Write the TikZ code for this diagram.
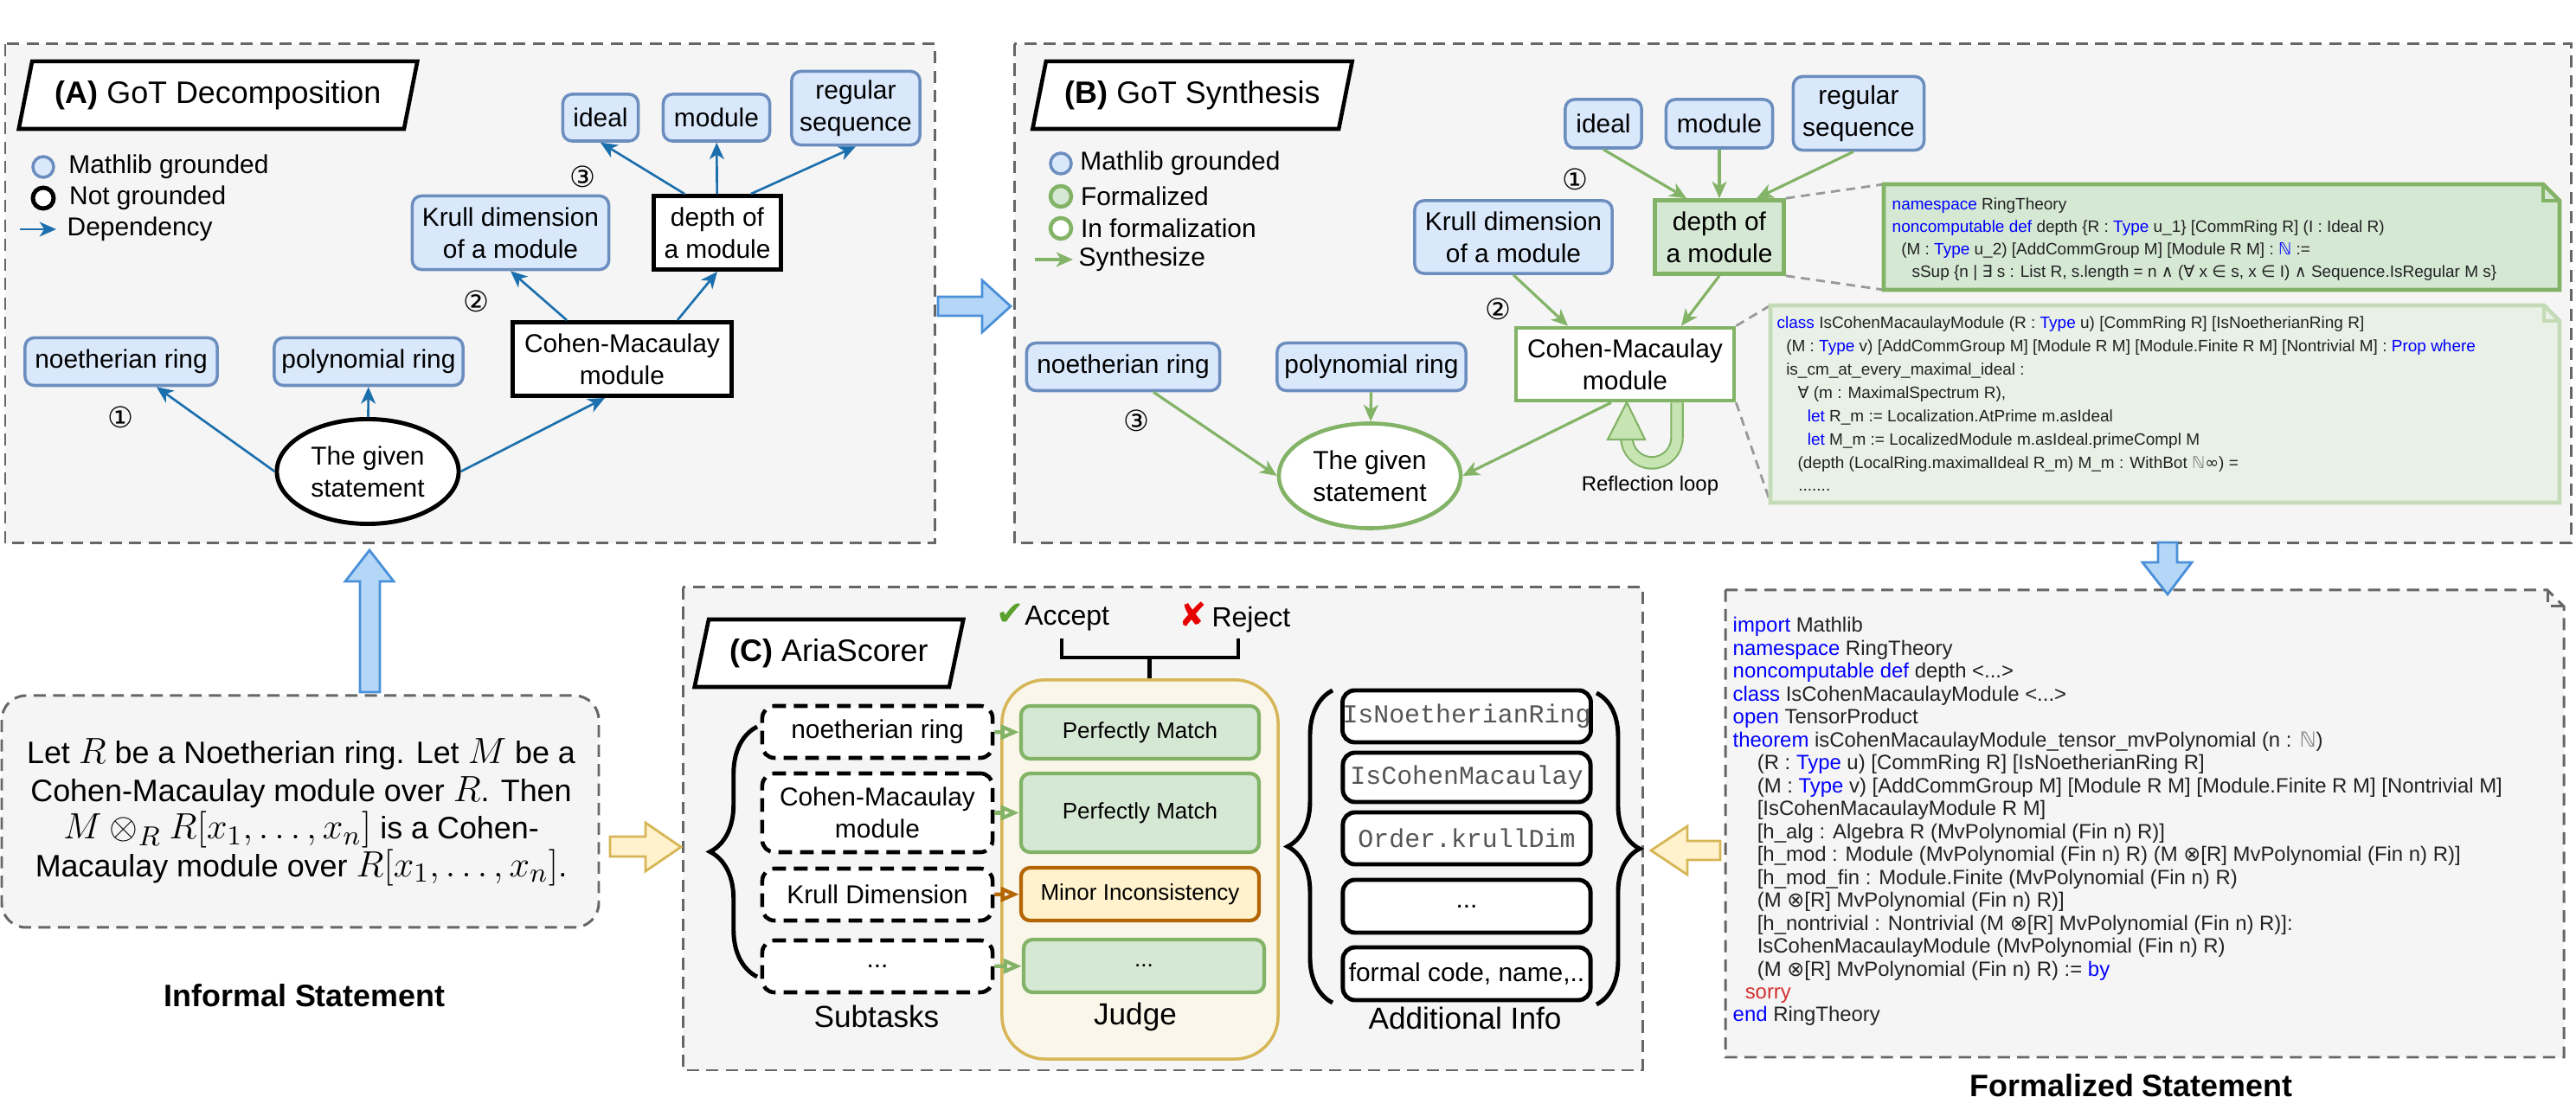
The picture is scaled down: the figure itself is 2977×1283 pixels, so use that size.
\documentclass[tikz,border=0pt]{standalone}
\usepackage{fontspec}
\setmainfont{Liberation Sans}
\setmonofont{Liberation Mono}
\newfontfamily\symfnt{DejaVu Sans}
\usetikzlibrary{positioning,shapes.geometric,arrows.meta,calc,decorations.pathreplacing}

\definecolor{panelbg}{HTML}{F5F5F5}
\definecolor{panelline}{HTML}{666666}
\definecolor{groundfill}{HTML}{DAE8FC}
\definecolor{groundline}{HTML}{6C8EBF}
\definecolor{formfill}{HTML}{D5E8D4}
\definecolor{formline}{HTML}{82B366}
\definecolor{codefill}{HTML}{E9F1E6}
\definecolor{codeline}{HTML}{C3DBB6}
\definecolor{depblue}{HTML}{1B6FAD}
\definecolor{kwblue}{HTML}{0000FF}
\definecolor{natgray}{HTML}{808080}
\definecolor{sorryred}{HTML}{D32F2F}
\definecolor{codeblack}{HTML}{222222}
\definecolor{judgefill}{HTML}{FAF6EA}
\definecolor{judgeline}{HTML}{D6B656}
\definecolor{minorfill}{HTML}{FFF2CC}
\definecolor{minorline}{HTML}{B46504}
\definecolor{bigblue}{HTML}{B5D7F7}
\definecolor{bigblueline}{HTML}{4A90D9}
\definecolor{okgreen}{HTML}{5AA02C}
\definecolor{nored}{HTML}{E60000}
\definecolor{loopfill}{HTML}{C6E5B3}
\definecolor{calloutgray}{HTML}{999999}
\definecolor{infogray}{HTML}{555555}

\newcommand{\nodefont}{\fontsize{8.5}{10.5}\selectfont}
\newcommand{\titlefont}{\fontsize{10.2}{12}\selectfont}
\newcommand{\kw}[1]{{\color{kwblue}#1}}
\newcommand{\nat}{{\symfnt\color{natgray}ℕ}}
\newcommand{\tens}{{\symfnt ⊗}}
\newcommand{\mth}[1]{{\fontsize{12.2}{12.2}\selectfont$#1$}}
\newcommand{\notebox}[6]{%
  \draw[#1] (#2,#3) -- ({#4-#6},#3) -- (#4,{#3+#6}) -- (#4,#5) -- (#2,#5) -- cycle;
  \draw[#1,fill=none] ({#4-#6},#3) -- ({#4-#6},{#3+#6}) -- (#4,{#3+#6});}

\begin{document}
\begin{tikzpicture}[
x=0.01cm, y=-0.01cm,
panel/.style={draw=panelline, fill=panelbg, line width=0.85pt, dash pattern=on 4pt off 2.4pt},
titlebox/.style={trapezium, trapezium left angle=68, trapezium right angle=112, trapezium stretches=true,
  draw=black, fill=white, line width=1.3pt, inner sep=0pt, font=\titlefont},
grounded/.style={draw=groundline, fill=groundfill, line width=1pt, rounded corners=3pt, align=center, inner sep=0pt, font=\nodefont},
notgrounded/.style={draw=black, fill=white, line width=1.4pt, align=center, inner sep=0pt, font=\nodefont},
formalized/.style={draw=formline, fill=formfill, line width=1.3pt, align=center, inner sep=0pt, font=\nodefont},
informal/.style={draw=formline, fill=white, line width=1.3pt, align=center, inner sep=0pt, font=\nodefont},
statement/.style={ellipse, fill=white, line width=1.4pt, align=center, inner sep=0pt, font=\nodefont,
  minimum width=2.1cm, minimum height=1.21cm},
deparrow/.style={draw=depblue, line width=0.75pt, -{Stealth[length=5.5pt,width=4.8pt,inset=1.6pt]}},
synarrow/.style={draw=formline, line width=0.9pt, -{Stealth[length=5.5pt,width=4.8pt,inset=1.6pt]}},
marker/.style={circle, minimum size=0.24cm, inner sep=0pt},
legend/.style={anchor=west, inner sep=0pt, font=\nodefont},
circnum/.style={inner sep=0pt, font=\symfnt\fontsize{9.5}{9.5}\selectfont},
callout/.style={draw=calloutgray, line width=0.8pt, dash pattern=on 3pt off 2pt},
codetext/.style={align=left, inner sep=0pt, text=codeblack, anchor=base west},
bigarrow/.style={draw=bigblueline, fill=bigblue, line width=0.8pt},
yelarrow/.style={draw=judgeline, fill=minorfill, line width=0.8pt},
subtask/.style={draw=black, fill=white, line width=1.3pt, dash pattern=on 4.5pt off 2.6pt, rounded corners=4pt,
  align=center, inner sep=0pt, minimum width=2.66cm, font=\nodefont},
judgeitem/.style={draw=formline, fill=formfill, line width=1.2pt, rounded corners=3pt, align=center, inner sep=0pt,
  minimum width=2.75cm, font=\fontsize{7.4}{9}\selectfont},
infobox/.style={draw=black, fill=white, line width=1.4pt, rounded corners=4pt, inner sep=0pt, minimum width=2.86cm,
  font=\nodefont},
judgearrow/.style={line width=1.2pt, -{Triangle[open,length=6pt,width=4.8pt]}},
bracestyle/.style={draw=black, line width=1.4pt, decorate},
biglabel/.style={inner sep=0pt, font=\bfseries\fontsize{10.2}{12}\selectfont},
]

\useasboundingbox (0,0) rectangle (2977,1283);

\draw[panel] (6,51) rectangle (1080,628);
\draw[panel] (1172,51) rectangle (2971,628);
\draw[panel] (789,679) rectangle (1898,1237);
\draw[panel, rounded corners=8pt] (2,804) rectangle (692,1072);
\notebox{panel}{1994}{682}{2963}{1222}{19}

\draw[bigarrow] (1084,343) -- (1135,343) -- (1135,324) -- (1168,354) -- (1135,384) -- (1135,365) -- (1084,365) -- cycle;
\draw[bigarrow] (416,800) -- (416,672) -- (399,672) -- (427,636) -- (455,672) -- (439,672) -- (439,800) -- cycle;
\draw[bigarrow] (2494,627) -- (2494,650) -- (2476,650) -- (2505,687) -- (2533,650) -- (2516,650) -- (2516,627) -- cycle;
\draw[yelarrow] (705,967) -- (746,967) -- (746,951) -- (787,979) -- (746,1007) -- (746,990) -- (705,990) -- cycle;
\draw[yelarrow] (1988,972) -- (1950,972) -- (1950,955) -- (1908,983) -- (1950,1011) -- (1950,994) -- (1988,994) -- cycle;

\node[titlebox, minimum width=4.61cm, minimum height=0.78cm] (titleA) at (252,110) {\textbf{(A)} GoT Decomposition};

\node[marker, draw=groundline, fill=groundfill, line width=1pt] (legA-g) at (50,193) {};
\node[marker, draw=black, fill=white, line width=1.4pt] (legA-n) at (50,229) {};
\coordinate (legA-a1) at (23,265);
\coordinate (legA-a2) at (65,265);
\draw[deparrow] (legA-a1) -- (legA-a2);
\node[legend, right=0.15cm of legA-g] {Mathlib grounded};
\node[legend, right=0.15cm of legA-n] {Not grounded};
\node[legend] at (77,265) {Dependency};

\node[grounded, minimum width=0.87cm, minimum height=0.54cm] (A-ideal) at (694,136) {ideal};
\node[grounded, minimum width=1.23cm, minimum height=0.54cm] (A-module) at (828,136) {module};
\node[grounded, minimum width=1.48cm, minimum height=0.85cm] (A-regseq) at (989,125) {regular\\sequence};
\node[grounded, minimum width=2.27cm, minimum height=0.85cm] (A-krull) at (590,269) {Krull dimension\\of a module};
\node[notgrounded, minimum width=1.47cm, minimum height=0.85cm] (A-depth) at (829,269) {depth of\\a module};
\node[grounded, minimum width=2.22cm, minimum height=0.55cm] (A-noeth) at (140,418) {noetherian ring};
\node[grounded, minimum width=2.18cm, minimum height=0.55cm] (A-poly) at (426,418) {polynomial ring};
\node[notgrounded, minimum width=2.53cm, minimum height=0.85cm] (A-cm) at (719,415) {Cohen-Macaulay\\module};
\node[statement, draw=black] (A-given) at (425,545) {The given\\statement};
\node[circnum] (A-n1) at (139,482) {①};
\node[circnum] (A-n2) at (550,348) {②};
\node[circnum] (A-n3) at (673,204) {③};

\draw[deparrow] (A-given.west) -- (A-noeth);
\draw[deparrow] (A-given) -- (A-poly);
\draw[deparrow] (A-given.east) -- ($(A-cm.south)+(-20,0)$);
\draw[deparrow] ($(A-cm.north)+(-64,0)$) -- (A-krull.south);
\draw[deparrow] ($(A-cm.north)+(64,0)$) -- (A-depth.south);
\draw[deparrow] ($(A-depth.north)+(-38,0)$) -- (A-ideal.south);
\draw[deparrow] (A-depth) -- (A-module);
\draw[deparrow] ($(A-depth.north)+(39,0)$) -- (A-regseq.south);

\node[titlebox, minimum width=3.7cm, minimum height=0.78cm] (titleB) at (1378,110) {\textbf{(B)} GoT Synthesis};

\node[marker, draw=groundline, fill=groundfill, line width=1pt] (legB-g) at (1226,189) {};
\node[marker, draw=formline, fill=formfill, line width=1.3pt] (legB-f) at (1226,227) {};
\node[marker, draw=formline, fill=white, line width=1.3pt] (legB-i) at (1226,264) {};
\coordinate (legB-a1) at (1196,300);
\coordinate (legB-a2) at (1240,300);
\draw[synarrow] (legB-a1) -- (legB-a2);
\node[legend, right=0.08cm of legB-g] {Mathlib grounded};
\node[legend, right=0.08cm of legB-f] {Formalized};
\node[legend, right=0.08cm of legB-i] {In formalization};
\node[legend] at (1246,300) {Synthesize};

\node[grounded, minimum width=0.88cm, minimum height=0.56cm] (B-ideal) at (1853,143) {ideal};
\node[grounded, minimum width=1.23cm, minimum height=0.56cm] (B-module) at (1987,143) {module};
\node[grounded, minimum width=1.51cm, minimum height=0.85cm] (B-regseq) at (2148,131) {regular\\sequence};
\node[formalized, minimum width=1.49cm, minimum height=0.85cm] (B-depth) at (1987,274) {depth of\\a module};
\node[grounded, minimum width=2.28cm, minimum height=0.84cm] (B-krull) at (1749,274) {Krull dimension\\of a module};
\node[informal, minimum width=2.52cm, minimum height=0.84cm] (B-cm) at (1878,421) {Cohen-Macaulay\\module};
\node[grounded, minimum width=2.23cm, minimum height=0.55cm] (B-noeth) at (1298,424) {noetherian ring};
\node[grounded, minimum width=2.18cm, minimum height=0.55cm] (B-poly) at (1585,424) {polynomial ring};
\node[statement, draw=formline, line width=1.3pt] (B-given) at (1583,550) {The given\\statement};
\node[circnum] (B-n1) at (1820,207) {①};
\node[circnum] (B-n2) at (1731,357) {②};
\node[circnum] (B-n3) at (1313,486) {③};

\draw[synarrow] (B-ideal.south) -- ($(B-depth.north)+(-38,0)$);
\draw[synarrow] (B-module) -- (B-depth);
\draw[synarrow] ($(B-regseq.south)+(-6,0)$) -- ($(B-depth.north)+(43,0)$);
\draw[synarrow] (B-krull.south) -- ($(B-cm.north)+(-66,0)$);
\draw[synarrow] (B-depth.south) -- ($(B-cm.north)+(65,0)$);
\draw[synarrow] ($(B-cm.south)+(-16,0)$) -- (B-given.east);
\draw[synarrow] ($(B-noeth.south)+(35,0)$) -- (B-given.west);
\draw[synarrow] (B-poly) -- (B-given);

\draw[draw=formline, line width=0.6pt, double=loopfill, double distance=3.2pt]
  ($(B-cm.south)+(60,0)$) -- (1938,506) arc[start angle=0, end angle=180, radius=29];
\draw[draw=formline, fill=loopfill, line width=0.6pt] (1858,508) -- (1901,508) -- (1880,465) -- cycle;
\node[inner sep=0pt, font=\fontsize{6.8}{8}\selectfont] (loop) at (1907,561) {Reflection loop};

\coordinate (c1nw) at (2177,213);
\coordinate (c1sw) at (2177,335);
\coordinate (c2nw) at (2046,353);
\coordinate (c2sw) at (2046,581);
\draw[callout] (B-depth.north east) -- (c1nw);
\draw[callout] (B-depth.south east) -- (c1sw);
\draw[callout] (B-cm.north east) -- (c2nw);
\draw[callout] (B-cm.south east) -- (c2sw);
\notebox{draw=formline, fill=formfill, line width=1.3pt}{2177}{213}{2958}{335}{19}
\notebox{draw=codeline, fill=codefill, line width=1.3pt}{2046}{353}{2958}{581}{18}

\node[codetext, font=\fontsize{5.4}{7.4}\selectfont] (depthcode) at (2186,321) {\kw{namespace} RingTheory\\
\kw{noncomputable def} depth \{R : \kw{Type} u\_1\} [CommRing R] (I : Ideal R)\\
\hspace*{3pt}(M : \kw{Type} u\_2) [AddCommGroup M] [Module R M] : {\symfnt\color{kwblue}ℕ} :=\\
\hspace*{6.5pt}sSup \{n | {\symfnt ∃} s : List R, s.length = n {\symfnt ∧} ({\symfnt ∀} x {\symfnt ∈} s, x {\symfnt ∈} I) {\symfnt ∧} Sequence.IsRegular M s\}};

\node[codetext, font=\fontsize{5.4}{7.65}\selectfont] (cmcode) at (2053,568) {\kw{class} IsCohenMacaulayModule (R : \kw{Type} u) [CommRing R] [IsNoetherianRing R]\\
\hspace*{3pt}(M : \kw{Type} v) [AddCommGroup M] [Module R M] [Module.Finite R M] [Nontrivial M] : \kw{Prop where}\\
\hspace*{3pt}is\_cm\_at\_every\_maximal\_ideal :\\
\hspace*{6.8pt}{\symfnt ∀} (m : MaximalSpectrum R),\\
\hspace*{10pt}\kw{let} R\_m := Localization.AtPrime m.asIdeal\\
\hspace*{10pt}\kw{let} M\_m := LocalizedModule m.asIdeal.primeCompl M\\
\hspace*{6.8pt}(depth (LocalRing.maximalIdeal R\_m) M\_m : WithBot \nat{\symfnt ∞}) =\\
\hspace*{7pt}.......};

\node[titlebox, minimum width=3.11cm, minimum height=0.78cm] (titleC) at (958,755) {\textbf{(C)} AriaScorer};
\node[inner sep=0pt, font=\fontsize{9.1}{11}\selectfont] (accept) at (1217,714) {{\symfnt\fontsize{11}{11}\selectfont\color{okgreen}✔}Accept};
\node[inner sep=0pt, font=\fontsize{9.1}{11}\selectfont] (reject) at (1427,714) {{\symfnt\fontsize{11}{11}\selectfont\color{nored}✘}\,Reject};

\node[draw=judgeline, fill=judgefill, line width=1pt, rounded corners=0.5cm, minimum width=3.19cm, minimum height=4.38cm] (judge) at (1317.5,1005) {};
\coordinate (brl) at (1227,738);
\coordinate (brr) at (1431,738);
\draw[line width=1.3pt] (brl) -- ++(0,22) -| (brr);
\draw[line width=1.3pt] ($(judge.north)+(11,0)$) -- ++(0,-26);

\node[subtask, minimum height=0.6cm] (st1) at (1014,846) {noetherian ring};
\node[subtask, minimum height=0.91cm] (st2) at (1014,939.5) {Cohen-Macaulay\\module};
\node[subtask, minimum height=0.6cm] (st3) at (1014,1034) {Krull Dimension};
\node[subtask, minimum height=0.6cm] (st4) at (1014,1117) {...};

\node[judgeitem, minimum height=0.61cm] (j1) at (1317.5,846.5) {Perfectly Match};
\node[judgeitem, minimum height=0.91cm] (j2) at (1317.5,939.5) {Perfectly Match};
\node[judgeitem, minimum height=0.61cm, draw=minorline, fill=minorfill] (j3) at (1317.5,1033.5) {Minor Inconsistency};
\node[judgeitem, minimum height=0.61cm, minimum width=2.78cm] (j4) at (1322,1116.5) {...};

\draw[judgearrow, draw=formline] (st1) -- (j1);
\draw[judgearrow, draw=formline] (st2) -- (j2);
\draw[judgearrow, draw=minorline] (st3) -- (j3);
\draw[judgearrow, draw=formline] (st4) -- (j4);

\node[infobox, minimum height=0.6cm, font=\ttfamily\fontsize{8.5}{10}\selectfont, text=infogray] (info1) at (1695,828) {IsNoetherianRing};
\node[infobox, minimum height=0.57cm, font=\ttfamily\fontsize{8.5}{10}\selectfont, text=infogray] (info2) at (1695,898.5) {IsCohenMacaulay};
\node[infobox, minimum height=0.6cm, font=\ttfamily\fontsize{8.5}{10}\selectfont, text=infogray] (info3) at (1695,969) {Order.krullDim};
\node[infobox, minimum height=0.61cm] (info4) at (1695,1047.5) {...};
\node[infobox, minimum height=0.61cm] (info5) at (1695,1125.5) {formal code, name,..};

\draw[bracestyle, decoration={brace, amplitude=15.5pt}] (875,1129) -- (875,840);
\draw[bracestyle, decoration={brace, amplitude=14.8pt}] (1540,1159) -- (1540,798);
\draw[bracestyle, decoration={brace, amplitude=14.2pt}] (1845,801) -- (1845,1161);

\node[inner sep=0pt, font=\fontsize{10}{12}\selectfont] (lsub) at (1013,1175) {Subtasks};
\node[inner sep=0pt, font=\fontsize{10}{12}\selectfont] (ljudge) at (1312,1175) {Judge};
\node[inner sep=0pt, font=\fontsize{10}{12}\selectfont] (linfo) at (1693,1177) {Additional Info};

\node[align=center, inner sep=0pt, font=\fontsize{10.2}{12.4}\selectfont] (informal) at (348,939)
  {Let \mth{R} be a Noetherian ring. Let \mth{M} be a\\
   Cohen-Macaulay module over \mth{R}. Then\\
   \mth{M\otimes_R R[x_1,\ldots,x_n]} is a Cohen-\\
   Macaulay module over \mth{R[x_1,\ldots,x_n]}.};
\node[biglabel] (linformal) at (352,1151) {Informal Statement};

\node[codetext, font=\fontsize{6.8}{7.53}\selectfont] (formalcode) at (2002,1181) {\kw{import} Mathlib\\
\kw{namespace} RingTheory\\
\kw{noncomputable def} depth <...>\\
\kw{class} IsCohenMacaulayModule <...>\\
\kw{open} TensorProduct\\
\kw{theorem} isCohenMacaulayModule\_tensor\_mvPolynomial (n : \nat)\\
\hspace*{8pt}(R : \kw{Type} u) [CommRing R] [IsNoetherianRing R]\\
\hspace*{8pt}(M : \kw{Type} v) [AddCommGroup M] [Module R M] [Module.Finite R M] [Nontrivial M]\\
\hspace*{8pt}[IsCohenMacaulayModule R M]\\
\hspace*{8pt}[h\_alg : Algebra R (MvPolynomial (Fin n) R)]\\
\hspace*{8pt}[h\_mod : Module (MvPolynomial (Fin n) R) (M \tens[R] MvPolynomial (Fin n) R)]\\
\hspace*{8pt}[h\_mod\_fin : Module.Finite (MvPolynomial (Fin n) R)\\
\hspace*{8pt}(M \tens[R] MvPolynomial (Fin n) R)]\\
\hspace*{8pt}[h\_nontrivial : Nontrivial (M \tens[R] MvPolynomial (Fin n) R)]:\\
\hspace*{8pt}IsCohenMacaulayModule (MvPolynomial (Fin n) R)\\
\hspace*{8pt}(M \tens[R] MvPolynomial (Fin n) R) := \kw{by}\\
\hspace*{4pt}{\color{sorryred}sorry}\\
\kw{end} RingTheory};
\node[biglabel] (lformal) at (2463,1255) {Formalized Statement};

\end{tikzpicture}
\end{document}
